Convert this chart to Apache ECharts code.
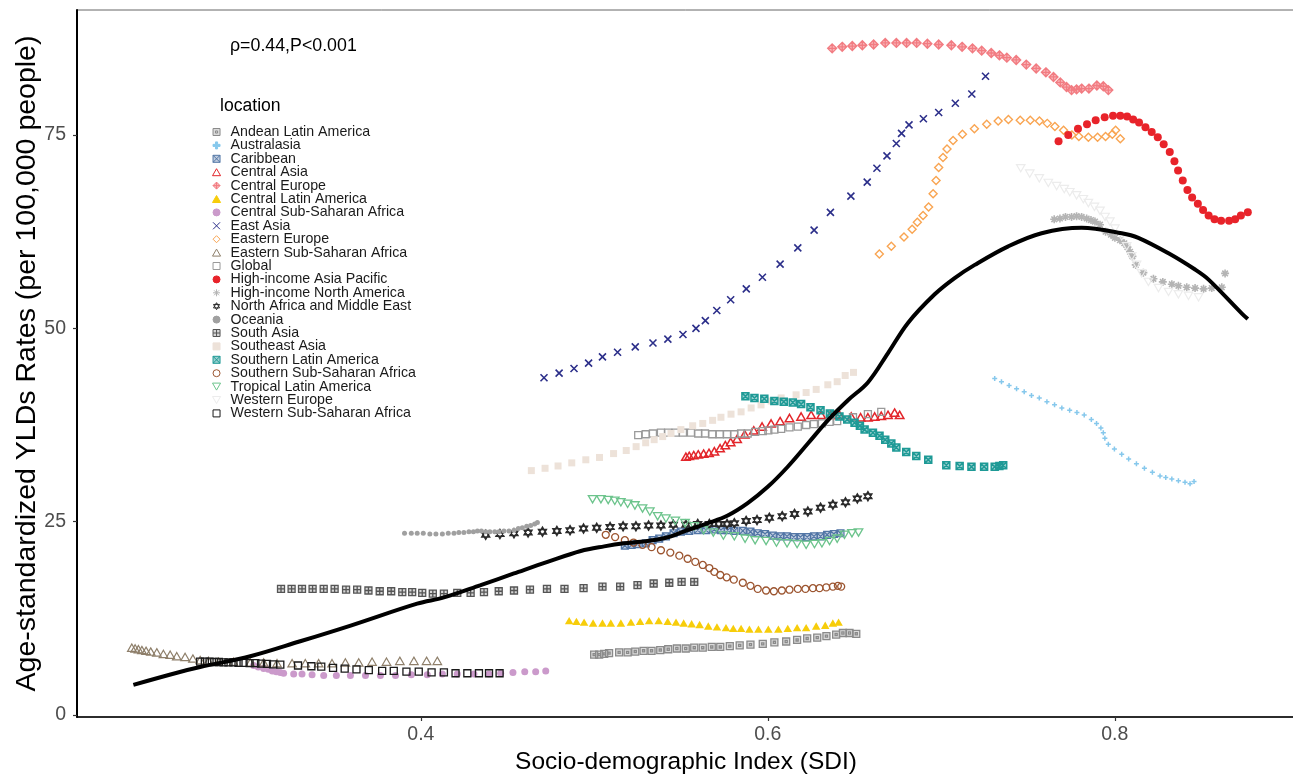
<!DOCTYPE html>
<html>
<head>
<meta charset="utf-8">
<script src="https://cdn.jsdelivr.net/npm/echarts@6/dist/echarts.min.js"></script>
<style>html,body{margin:0;padding:0;background:#fff}#c{width:1293px;height:776px}</style>
</head>
<body>
<div id="c"></div>
<script>
// ---- data: [SDI, age-standardized YLD rate] ----
const andeanLatinAmerica = [[0.4999,7.8],[0.5028,7.8],[0.5057,7.9],[0.5085,8.0],[0.5143,8.1],[0.5192,8.1],[0.5236,8.2],[0.5284,8.3],[0.5330,8.3],[0.5380,8.4],[0.5426,8.5],[0.5476,8.6],[0.5527,8.6],[0.5576,8.7],[0.5625,8.7],[0.5677,8.8],[0.5726,8.8],[0.5781,8.9],[0.5838,9.0],[0.5900,9.1],[0.5971,9.2],[0.6038,9.4],[0.6106,9.5],[0.6169,9.7],[0.6227,9.9],[0.6285,10.0],[0.6338,10.2],[0.6394,10.4],[0.6433,10.6],[0.6471,10.6],[0.6510,10.5]];
const australasia = [[0.7308,43.5],[0.7347,43.1],[0.7391,42.6],[0.7434,42.2],[0.7478,41.8],[0.7520,41.3],[0.7565,41.0],[0.7609,40.5],[0.7653,40.1],[0.7695,39.7],[0.7740,39.4],[0.7782,39.1],[0.7824,38.8],[0.7865,38.2],[0.7895,37.7],[0.7920,37.1],[0.7934,36.5],[0.7943,35.8],[0.7963,35.0],[0.7998,34.4],[0.8040,33.7],[0.8080,33.1],[0.8125,32.5],[0.8171,31.9],[0.8217,31.4],[0.8261,30.9],[0.8294,30.7],[0.8329,30.5],[0.8367,30.3],[0.8405,30.1],[0.8434,29.9],[0.8457,30.2]];
const caribbean = [[0.5176,21.9],[0.5215,22.0],[0.5249,22.1],[0.5297,22.2],[0.5336,22.6],[0.5374,22.8],[0.5413,23.1],[0.5457,23.5],[0.5499,23.7],[0.5547,23.8],[0.5596,23.9],[0.5644,23.9],[0.5692,24.0],[0.5730,23.9],[0.5769,23.9],[0.5807,23.8],[0.5856,23.8],[0.5900,23.7],[0.5942,23.5],[0.5984,23.4],[0.6029,23.2],[0.6073,23.1],[0.6111,23.1],[0.6150,23.0],[0.6188,23.0],[0.6227,23.0],[0.6266,23.1],[0.6304,23.1],[0.6342,23.3],[0.6381,23.4],[0.6419,23.5]];
const centralAsia = [[0.5528,33.4],[0.5547,33.5],[0.5573,33.6],[0.5599,33.7],[0.5630,33.8],[0.5661,33.9],[0.5692,34.1],[0.5725,34.5],[0.5755,34.9],[0.5786,35.3],[0.5823,35.7],[0.5867,36.3],[0.5919,36.8],[0.5967,37.3],[0.6019,37.7],[0.6071,38.0],[0.6125,38.4],[0.6192,38.6],[0.6250,38.8],[0.6308,38.8],[0.6361,38.8],[0.6413,38.8],[0.6481,38.6],[0.6535,38.5],[0.6577,38.5],[0.6616,38.6],[0.6654,38.7],[0.6693,38.8],[0.6731,39.1],[0.6760,38.8]];
const centralEurope = [[0.6371,86.2],[0.6429,86.4],[0.6487,86.5],[0.6545,86.6],[0.6610,86.7],[0.6677,86.9],[0.6741,86.9],[0.6800,86.9],[0.6858,86.9],[0.6920,86.8],[0.6985,86.7],[0.7058,86.6],[0.7120,86.4],[0.7180,86.2],[0.7233,85.9],[0.7288,85.6],[0.7335,85.3],[0.7378,85.0],[0.7432,84.7],[0.7490,84.1],[0.7547,83.6],[0.7603,83.1],[0.7647,82.5],[0.7686,81.8],[0.7722,81.2],[0.7751,80.8],[0.7780,80.9],[0.7809,81.0],[0.7851,81.0],[0.7897,81.4],[0.7934,81.3],[0.7963,80.8]];
const centralLatinAmerica = [[0.4855,12.2],[0.4897,12.1],[0.4941,12.0],[0.4993,11.9],[0.5047,11.9],[0.5095,11.9],[0.5153,11.9],[0.5211,12.0],[0.5264,12.1],[0.5316,12.2],[0.5371,12.2],[0.5423,12.1],[0.5471,12.0],[0.5515,11.9],[0.5561,11.8],[0.5607,11.7],[0.5657,11.5],[0.5707,11.4],[0.5759,11.3],[0.5801,11.2],[0.5846,11.2],[0.5894,11.1],[0.5946,11.1],[0.6003,11.1],[0.6061,11.1],[0.6115,11.2],[0.6169,11.3],[0.6221,11.3],[0.6279,11.5],[0.6331,11.6],[0.6375,11.9],[0.6408,12.0]];
const centralSubSaharanAfrica = [[0.3036,6.4],[0.3063,6.2],[0.3094,6.0],[0.3121,5.9],[0.3144,5.7],[0.3167,5.6],[0.3190,5.5],[0.3209,5.4],[0.3267,5.3],[0.3315,5.3],[0.3373,5.2],[0.3440,5.1],[0.3513,5.1],[0.3594,5.1],[0.3681,5.1],[0.3767,5.1],[0.3854,5.1],[0.3945,5.2],[0.4037,5.2],[0.4124,5.3],[0.4210,5.3],[0.4306,5.3],[0.4393,5.3],[0.4460,5.4],[0.4531,5.5],[0.4599,5.6],[0.4662,5.6],[0.4720,5.7]];
const eastAsia = [[0.4710,43.6],[0.4797,44.2],[0.4883,44.8],[0.4967,45.5],[0.5047,46.3],[0.5134,46.9],[0.5236,47.6],[0.5338,48.1],[0.5424,48.6],[0.5511,49.2],[0.5586,50.0],[0.5640,51.0],[0.5706,52.3],[0.5786,53.7],[0.5876,55.1],[0.5969,56.6],[0.6071,58.3],[0.6173,60.4],[0.6267,62.7],[0.6361,65.0],[0.6479,67.1],[0.6573,68.9],[0.6629,70.7],[0.6687,72.3],[0.6741,73.9],[0.6771,75.2],[0.6814,76.3],[0.6897,77.1],[0.6985,77.9],[0.7081,79.1],[0.7176,80.3],[0.7255,82.6]];
const easternEurope = [[0.6643,59.6],[0.6712,60.6],[0.6785,61.8],[0.6832,62.8],[0.6862,63.7],[0.6895,64.6],[0.6927,65.7],[0.6953,67.4],[0.6970,69.1],[0.6985,70.8],[0.7010,72.1],[0.7033,73.2],[0.7068,74.3],[0.7122,75.1],[0.7191,75.8],[0.7262,76.4],[0.7328,76.8],[0.7387,77.0],[0.7455,76.9],[0.7513,76.9],[0.7566,76.8],[0.7611,76.5],[0.7655,76.1],[0.7705,75.6],[0.7753,75.0],[0.7793,74.8],[0.7848,74.7],[0.7901,74.7],[0.7947,74.8],[0.7986,75.1],[0.8005,75.6],[0.8032,74.5]];
const easternSubSaharanAfrica = [[0.2334,8.7],[0.2353,8.6],[0.2372,8.5],[0.2392,8.4],[0.2416,8.3],[0.2443,8.2],[0.2478,8.1],[0.2516,7.9],[0.2555,7.8],[0.2593,7.6],[0.2641,7.5],[0.2686,7.3],[0.2728,7.1],[0.2776,7.0],[0.2834,6.9],[0.2920,6.9],[0.3017,6.8],[0.3094,6.8],[0.3171,6.7],[0.3258,6.7],[0.3334,6.7],[0.3411,6.7],[0.3488,6.7],[0.3565,6.8],[0.3642,6.8],[0.3719,6.9],[0.3802,6.9],[0.3879,7.0],[0.3960,7.0],[0.4033,7.0],[0.4095,7.0]];
const globalSeries = [[0.5253,36.2],[0.5296,36.3],[0.5338,36.4],[0.5384,36.5],[0.5426,36.5],[0.5469,36.5],[0.5511,36.5],[0.5557,36.5],[0.5599,36.4],[0.5638,36.4],[0.5680,36.3],[0.5723,36.3],[0.5765,36.3],[0.5807,36.3],[0.5846,36.4],[0.5884,36.4],[0.5927,36.6],[0.5971,36.7],[0.6003,36.8],[0.6038,36.9],[0.6077,37.0],[0.6125,37.2],[0.6173,37.3],[0.6221,37.5],[0.6266,37.6],[0.6312,37.7],[0.6356,37.9],[0.6400,38.0],[0.6491,38.5],[0.6577,38.9],[0.6654,39.2]];
const highIncomeAsiaPacific = [[0.7676,74.2],[0.7732,75.0],[0.7788,75.8],[0.7840,76.4],[0.7890,76.9],[0.7942,77.3],[0.7990,77.5],[0.8032,77.5],[0.8071,77.4],[0.8106,77.0],[0.8140,76.6],[0.8177,76.0],[0.8213,75.4],[0.8248,74.7],[0.8282,73.8],[0.8317,72.8],[0.8344,71.6],[0.8365,70.4],[0.8392,69.1],[0.8419,67.9],[0.8446,66.9],[0.8479,66.1],[0.8509,65.3],[0.8541,64.6],[0.8575,64.1],[0.8613,63.9],[0.8659,63.9],[0.8694,64.1],[0.8727,64.6],[0.8767,65.0]];
const highIncomeNorthAmerica = [[0.7651,64.1],[0.7684,64.2],[0.7716,64.4],[0.7751,64.4],[0.7780,64.5],[0.7809,64.4],[0.7838,64.2],[0.7863,64.0],[0.7886,63.8],[0.7915,63.4],[0.7947,62.5],[0.7978,62.1],[0.8001,61.7],[0.8030,61.4],[0.8055,61.0],[0.8073,60.5],[0.8088,59.9],[0.8102,59.3],[0.8121,58.2],[0.8165,57.2],[0.8223,56.4],[0.8277,56.0],[0.8329,55.7],[0.8367,55.5],[0.8415,55.3],[0.8463,55.2],[0.8512,55.1],[0.8559,55.2],[0.8617,55.3],[0.8636,57.1]];
const northAfricaMiddleEast = [[0.4374,23.3],[0.4456,23.4],[0.4537,23.5],[0.4618,23.6],[0.4701,23.7],[0.4784,23.8],[0.4860,23.9],[0.4938,24.1],[0.5014,24.2],[0.5091,24.3],[0.5166,24.4],[0.5240,24.4],[0.5313,24.5],[0.5384,24.5],[0.5455,24.6],[0.5528,24.6],[0.5596,24.7],[0.5663,24.7],[0.5717,24.7],[0.5765,24.7],[0.5807,24.8],[0.5875,25.1],[0.5938,25.2],[0.6009,25.5],[0.6083,25.7],[0.6154,26.0],[0.6231,26.3],[0.6304,26.8],[0.6375,27.2],[0.6448,27.5],[0.6516,28.0],[0.6577,28.3]];
const oceania = [[0.3906,23.5],[0.3945,23.5],[0.3979,23.5],[0.4014,23.5],[0.4052,23.4],[0.4087,23.4],[0.4124,23.4],[0.4158,23.5],[0.4191,23.5],[0.4219,23.6],[0.4248,23.6],[0.4277,23.7],[0.4303,23.7],[0.4326,23.8],[0.4349,23.8],[0.4374,23.7],[0.4398,23.7],[0.4426,23.7],[0.4450,23.7],[0.4479,23.8],[0.4508,23.8],[0.4537,23.9],[0.4562,24.1],[0.4585,24.2],[0.4610,24.4],[0.4633,24.5],[0.4656,24.7],[0.4672,24.9]];
const southAsia = [[0.3194,16.3],[0.3255,16.3],[0.3315,16.3],[0.3376,16.3],[0.3440,16.3],[0.3503,16.3],[0.3569,16.2],[0.3633,16.2],[0.3698,16.1],[0.3763,16.0],[0.3829,16.0],[0.3893,15.9],[0.3950,15.9],[0.4008,15.8],[0.4069,15.7],[0.4133,15.7],[0.4210,15.8],[0.4287,15.8],[0.4364,15.9],[0.4449,16.0],[0.4537,16.1],[0.4629,16.2],[0.4727,16.3],[0.4828,16.3],[0.4938,16.4],[0.5047,16.6],[0.5149,16.6],[0.5249,16.8],[0.5342,17.0],[0.5432,17.1],[0.5503,17.2],[0.5576,17.2]];
const southeastAsia = [[0.4637,31.6],[0.4716,31.9],[0.4791,32.2],[0.4870,32.6],[0.4951,33.0],[0.5030,33.3],[0.5111,33.8],[0.5184,34.2],[0.5241,34.7],[0.5296,35.2],[0.5345,35.6],[0.5394,36.0],[0.5442,36.4],[0.5499,36.9],[0.5567,37.4],[0.5625,37.7],[0.5682,38.1],[0.5730,38.5],[0.5788,38.9],[0.5846,39.2],[0.5904,39.7],[0.5961,40.1],[0.6019,40.6],[0.6077,41.0],[0.6163,41.4],[0.6221,41.7],[0.6279,42.1],[0.6346,42.7],[0.6400,43.1],[0.6446,43.9],[0.6494,44.3]];
const southernLatinAmerica = [[0.5871,41.2],[0.5923,41.0],[0.5980,40.9],[0.6038,40.6],[0.6092,40.5],[0.6144,40.4],[0.6192,40.2],[0.6246,39.8],[0.6304,39.4],[0.6358,39.0],[0.6413,38.6],[0.6458,38.2],[0.6500,37.8],[0.6531,37.4],[0.6558,36.9],[0.6606,36.5],[0.6644,36.1],[0.6677,35.6],[0.6712,35.1],[0.6741,34.6],[0.6798,34.0],[0.6856,33.5],[0.6925,33.0],[0.7029,32.3],[0.7106,32.2],[0.7174,32.1],[0.7247,32.1],[0.7308,32.1],[0.7335,32.2],[0.7357,32.3]];
const southernSubSaharanAfrica = [[0.5066,23.3],[0.5120,23.0],[0.5176,22.6],[0.5226,22.3],[0.5278,22.0],[0.5330,21.7],[0.5384,21.3],[0.5438,21.0],[0.5490,20.6],[0.5538,20.2],[0.5582,19.8],[0.5625,19.4],[0.5663,19.0],[0.5692,18.5],[0.5726,18.1],[0.5763,17.8],[0.5804,17.5],[0.5856,17.1],[0.5900,16.7],[0.5942,16.3],[0.5990,16.1],[0.6035,16.0],[0.6081,16.1],[0.6125,16.2],[0.6173,16.3],[0.6217,16.3],[0.6260,16.4],[0.6298,16.4],[0.6337,16.5],[0.6375,16.6],[0.6404,16.7],[0.6423,16.6]];
const tropicalLatinAmerica = [[0.4990,27.9],[0.5038,27.9],[0.5080,27.8],[0.5118,27.7],[0.5153,27.5],[0.5192,27.3],[0.5234,27.1],[0.5278,26.7],[0.5320,26.3],[0.5365,25.7],[0.5413,25.4],[0.5467,25.1],[0.5523,24.8],[0.5576,24.4],[0.5630,23.9],[0.5686,23.6],[0.5744,23.2],[0.5807,23.1],[0.5869,22.8],[0.5927,22.6],[0.5990,22.5],[0.6050,22.3],[0.6111,22.2],[0.6169,22.1],[0.6221,22.0],[0.6269,22.1],[0.6312,22.2],[0.6356,22.5],[0.6400,22.8],[0.6442,23.3],[0.6485,23.5],[0.6523,23.6]];
const westernEurope = [[0.7458,70.7],[0.7510,70.0],[0.7565,69.4],[0.7617,68.8],[0.7665,68.4],[0.7709,68.0],[0.7741,67.6],[0.7780,67.2],[0.7819,66.7],[0.7848,66.2],[0.7883,65.7],[0.7915,65.2],[0.7944,64.4],[0.7972,63.8],[0.8001,62.9],[0.8040,61.9],[0.8069,60.6],[0.8098,59.3],[0.8126,58.2],[0.8155,57.1],[0.8194,56.0],[0.8252,55.2],[0.8310,54.7],[0.8367,54.4],[0.8425,54.2],[0.8483,54.0]];
const westernSubSaharanAfrica = [[0.2728,6.9],[0.2755,6.9],[0.2782,6.9],[0.2809,6.85],[0.2836,6.85],[0.2863,6.8],[0.2891,6.8],[0.2920,6.8],[0.2949,6.75],[0.2978,6.75],[0.3013,6.7],[0.3046,6.7],[0.3079,6.65],[0.3113,6.6],[0.3148,6.55],[0.3190,6.5],[0.3292,6.4],[0.3369,6.3],[0.3426,6.25],[0.3494,6.1],[0.3561,6.0],[0.3629,5.9],[0.3700,5.8],[0.3777,5.7],[0.3844,5.7],[0.3917,5.6],[0.3988,5.6],[0.4062,5.5],[0.4133,5.5],[0.4200,5.4],[0.4268,5.4],[0.4335,5.4],[0.4393,5.4],[0.4454,5.4]];
const smoothFit = [[0.2343,3.9],[0.26,5.5],[0.2728,6.2],[0.3017,7.6],[0.33,9.5],[0.36,11.6],[0.3979,14.4],[0.4133,15.2],[0.4345,16.8],[0.4537,18.3],[0.4730,19.8],[0.4922,21.2],[0.5057,21.8],[0.5172,22.2],[0.5268,22.4],[0.5365,22.7],[0.5442,23.1],[0.5538,23.9],[0.5654,24.8],[0.5769,25.8],[0.5884,27.4],[0.6000,29.5],[0.6115,32.1],[0.6231,35.1],[0.6346,38.1],[0.6462,40.7],[0.6577,43.0],[0.6693,46.8],[0.6808,50.7],[0.6962,54.4],[0.7077,56.5],[0.7193,58.2],[0.7386,60.6],[0.7578,62.3],[0.7809,63.0],[0.8040,62.3],[0.8136,61.7],[0.8310,59.7],[0.8463,57.6],[0.8541,56.3],[0.8733,51.9],[0.8767,51.2]];
const xTicks = [0.4, 0.6, 0.8];
const yTicks = [0, 25, 50, 75];
const annotation = 'ρ=0.44,P<0.001';

// ---- symbols ----
const P = {
  sq: 'path://M0,0L10,0L10,10L0,10Z',
  sqX: 'path://M0,0L10,0L10,10L0,10Z M0,0L10,10 M10,0L0,10',
  sqPlus: 'path://M0,0L10,0L10,10L0,10Z M5,0L5,10 M0,5L10,5',
  sqDot: 'path://M0,0L10,0L10,10L0,10Z M3.5,3.5L6.5,3.5L6.5,6.5L3.5,6.5Z',
  dia: 'path://M5,0L10,5L5,10L0,5Z',
  diaPlus: 'path://M5,0L10,5L5,10L0,5Z M5,0L5,10 M0,5L10,5',
  cross: 'path://M0,0L10,10 M10,0L0,10',
  star: 'path://M0,5L10,5 M5,0L5,10 M1.5,1.5L8.5,8.5 M8.5,1.5L1.5,8.5',
  david: 'path://M5,0L9.33,7.5L0.67,7.5Z M5,10L0.67,2.5L9.33,2.5Z',
  down: 'path://M0,0L10,0L5,8.66Z',
  up: 'path://M5,0L10,8.66L0,8.66Z',
  plusDot: 'path://M3.5,0L6.5,0L6.5,3.5L10,3.5L10,6.5L6.5,6.5L6.5,10L3.5,10L3.5,6.5L0,6.5L0,3.5L3.5,3.5Z'
};
const T = 'rgba(0,0,0,0)';
// name, data, symbol, size, fill, stroke, strokeWidth
const defs = [
  ['Andean Latin America', andeanLatinAmerica, P.sqDot, 7, 'rgba(150,150,150,0.35)', '#8a8a8a', 1.3],
  ['Australasia', australasia, P.plusDot, 5, '#86c8ec', '#86c8ec', 0],
  ['Caribbean', caribbean, P.sqX, 7, 'rgba(79,116,165,0.35)', '#5276a6', 1.2],
  ['Central Asia', centralAsia, P.up, 8.5, T, '#e3262b', 1.5],
  ['Central Europe', centralEurope, P.diaPlus, 9, 'rgba(242,124,130,0.55)', '#f27c82', 1.3],
  ['Central Latin America', centralLatinAmerica, P.up, 8.5, '#f7cd0a', '#f7cd0a', 0],
  ['Central Sub-Saharan Africa', centralSubSaharanAfrica, 'circle', 7, '#cb9acb', '#cb9acb', 0],
  ['East Asia', eastAsia, P.cross, 7, T, '#2c2f8a', 1.6],
  ['Eastern Europe', easternEurope, P.dia, 8, T, '#f9a552', 1.4],
  ['Eastern Sub-Saharan Africa', easternSubSaharanAfrica, P.up, 8.5, T, '#8e7f6a', 1.2],
  ['Global', globalSeries, P.sq, 7, T, '#9a9a9a', 1.3],
  ['High-income Asia Pacific', highIncomeAsiaPacific, 'circle', 8, '#e8232a', '#e8232a', 0],
  ['High-income North America', highIncomeNorthAmerica, P.star, 8, T, '#b4b4b4', 1.6],
  ['North Africa and Middle East', northAfricaMiddleEast, P.david, 9, T, '#2b2b2b', 1.5],
  ['Oceania', oceania, 'circle', 5, '#a0a0a0', '#a0a0a0', 0],
  ['South Asia', southAsia, P.sqPlus, 7, 'rgba(90,90,90,0.25)', '#555555', 1.3],
  ['Southeast Asia', southeastAsia, P.sq, 7, '#ede2d9', '#ede2d9', 0],
  ['Southern Latin America', southernLatinAmerica, P.sqX, 7, 'rgba(30,154,150,0.45)', '#1e9a96', 1.5],
  ['Southern Sub-Saharan Africa', southernSubSaharanAfrica, 'circle', 7, T, '#9c5530', 1.3],
  ['Tropical Latin America', tropicalLatinAmerica, P.down, 8.5, T, '#6cc48c', 1.3],
  ['Western Europe', westernEurope, P.down, 8.5, T, '#ececec', 1.2],
  ['Western Sub-Saharan Africa', westernSubSaharanAfrica, P.sq, 7, T, '#1a1a1a', 1.3]
];

const FONT = '"Liberation Sans", Arial, Helvetica, sans-serif';
const series = defs.map(d => ({
  name: d[0], type: 'scatter', data: d[1], symbol: d[2], symbolSize: d[3],
  symbolKeepAspect: true,
  itemStyle: { color: d[4], borderColor: d[5], borderWidth: d[6], opacity: 1 },
  emphasis: { disabled: true }, z: 2, silent: true
}));
series.push({
  name: 'fit', type: 'line', data: smoothFit, smooth: 0.35, symbol: 'none',
  lineStyle: { color: '#000', width: 4 }, z: 5, silent: true
});

const chart = echarts.init(document.getElementById('c'), null, { renderer: 'canvas' });
chart.setOption({
  animation: false,
  backgroundColor: '#fff',
  grid: { left: 77, top: 10, right: -2, bottom: 59, containLabel: false, outerBoundsMode: 'none', show: true, borderColor: '#666', borderWidth: 1, backgroundColor: 'transparent' },
  xAxis: {
    type: 'value', min: 0.2018, max: 0.9039,
    name: 'Socio-demographic Index (SDI)', nameLocation: 'middle', nameGap: 33,
    nameTextStyle: { fontSize: 24.5, color: '#000', fontFamily: FONT },
    axisLine: { show: true, onZero: false, lineStyle: { color: '#000', width: 1.6 } },
    axisTick: { show: true, length: 4, customValues: xTicks, lineStyle: { color: '#333', width: 1.2 } },
    axisLabel: { customValues: xTicks, margin: 8, fontSize: 19.5, color: '#4d4d4d', fontFamily: FONT, formatter: v => v.toFixed(1) },
    splitLine: { show: false }
  },
  yAxis: {
    type: 'value', min: -0.26, max: 91.16,
    name: 'Age-standardized YLDs Rates (per 100,000 people)', nameLocation: 'middle', nameGap: 35, nameMoveOverlap: false,
    nameTextStyle: { fontSize: 28.5, color: '#000', fontFamily: FONT },
    axisLine: { show: true, onZero: false, lineStyle: { color: '#000', width: 2 } },
    axisTick: { show: true, length: 4, customValues: yTicks, lineStyle: { color: '#333', width: 1.2 } },
    axisLabel: { customValues: yTicks, margin: 11, fontSize: 19.5, color: '#4d4d4d', fontFamily: FONT },
    splitLine: { show: false }
  },
  legend: {
    data: defs.map(d => d[0]),
    orient: 'vertical', left: 212, top: 125, padding: 0,
    itemWidth: 18, itemHeight: 7, itemGap: -0.6,
    selectedMode: false,
    itemStyle: { borderWidth: 1 },
    textStyle: { fontSize: 14.2, lineHeight: 13, color: '#1a1a1a', fontFamily: FONT }
  },
  graphic: [
    { type: 'text', left: 230, top: 37, style: { text: annotation, fill: '#000', font: '17.8px ' + FONT } },
    { type: 'text', left: 220, top: 97, style: { text: 'location', fill: '#000', font: '17.6px ' + FONT } }
  ],
  series: series
});
</script>
</body>
</html>
